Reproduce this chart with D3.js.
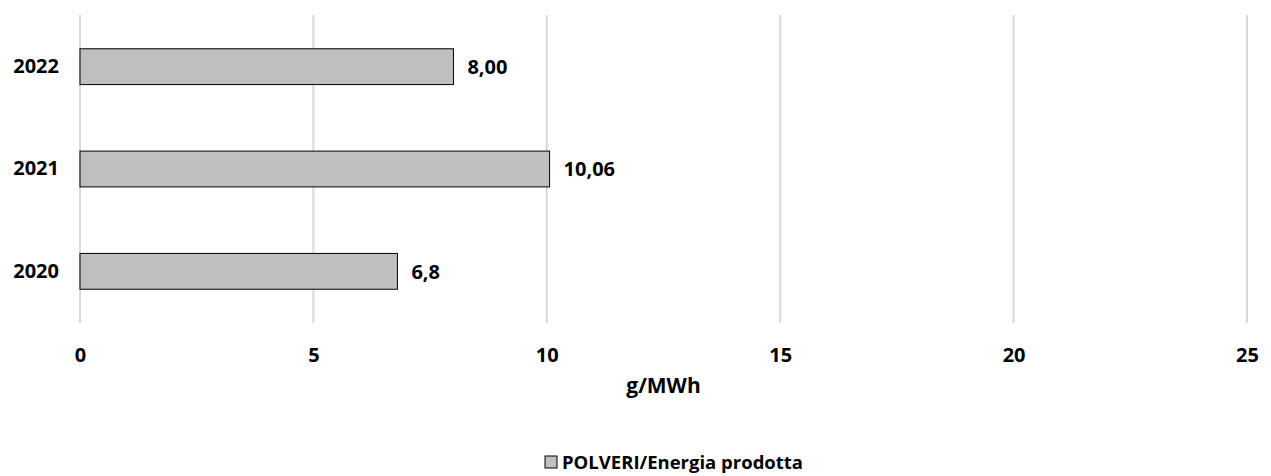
<!DOCTYPE html>
<html>
<head>
<meta charset="utf-8">
<script src="https://cdn.jsdelivr.net/npm/d3@7"></script>
<style>
  body { margin: 0; background: #fff; }
  text { font-family: "Open Sans", "DejaVu Sans", sans-serif; font-weight: bold; fill: #000; }
</style>
</head>
<body>
<script>
// data
const years = ["2022", "2021", "2020"];
const values = [8.00, 10.06, 6.8];
const valueLabels = ["8,00", "10,06", "6,8"];
const xTicks = [0, 5, 10, 15, 20, 25];
const seriesName = "POLVERI/Energia prodotta";
const axisTitle = "g/MWh";

var W = 1271, H = 476;
var margin = {top: 15, right: 24, bottom: 153, left: 80},
    width = W - margin.left - margin.right,
    height = H - margin.top - margin.bottom;

var svg = d3.select("body").append("svg")
  .attr("width", W)
  .attr("height", H);

var g = svg.append("g")
  .attr("transform", "translate(" + margin.left + "," + margin.top + ")");

var xScale = d3.scaleLinear().domain([0, 25]).range([0, width]);
var yScale = d3.scaleBand().domain(years).range([0, height]).paddingInner(0.65).paddingOuter(0.33);

// gridlines
g.selectAll("line.grid")
  .data(xTicks)
  .enter()
  .append("line")
  .attr("class", "grid")
  .attr("x1", function(d) { return xScale(d); })
  .attr("x2", function(d) { return xScale(d); })
  .attr("y1", 0)
  .attr("y2", height)
  .attr("stroke", "#d9d9d9")
  .attr("stroke-width", 2);

// bars
g.selectAll("rect.bar")
  .data(years)
  .enter()
  .append("rect")
  .attr("class", "bar")
  .attr("x", xScale(0))
  .attr("y", function(d) { return yScale(d); })
  .attr("width", function(d, i) { return xScale(values[i]) - xScale(0); })
  .attr("height", yScale.bandwidth())
  .attr("fill", "#bfbfbf")
  .attr("stroke", "#000")
  .attr("stroke-width", 1);

// value labels
g.selectAll("text.val")
  .data(years)
  .enter()
  .append("text")
  .attr("class", "val")
  .attr("x", function(d, i) { return xScale(values[i]) + 14; })
  .attr("y", function(d) { return yScale(d) + yScale.bandwidth() / 2; })
  .attr("dy", "0.36em")
  .attr("font-size", "20px")
  .text(function(d, i) { return valueLabels[i]; });

// y axis
var yAxis = d3.axisLeft(yScale).tickSize(0).tickPadding(21);
g.append("g")
  .call(yAxis)
  .call(function(s) { s.select(".domain").remove(); })
  .selectAll("text")
  .attr("font-size", "20px");

// x axis
var xAxis = d3.axisBottom(xScale).tickValues(xTicks).tickSize(0).tickPadding(25);
g.append("g")
  .attr("transform", "translate(0," + height + ")")
  .call(xAxis)
  .call(function(s) { s.select(".domain").remove(); })
  .selectAll("text")
  .attr("font-size", "20px");

// axis title
svg.append("text")
  .attr("x", margin.left + width / 2)
  .attr("y", 393)
  .attr("text-anchor", "middle")
  .attr("font-size", "21px")
  .text(axisTitle);

// legend
var leg = svg.append("g").attr("transform", "translate(545,456)");
leg.append("rect")
  .attr("width", 12).attr("height", 12)
  .attr("fill", "#bfbfbf").attr("stroke", "#000").attr("stroke-width", 1);
leg.append("text")
  .attr("x", 17)
  .attr("y", 6)
  .attr("dy", "0.36em")
  .attr("font-size", "18.5px")
  .text(seriesName);
</script>
</body>
</html>
